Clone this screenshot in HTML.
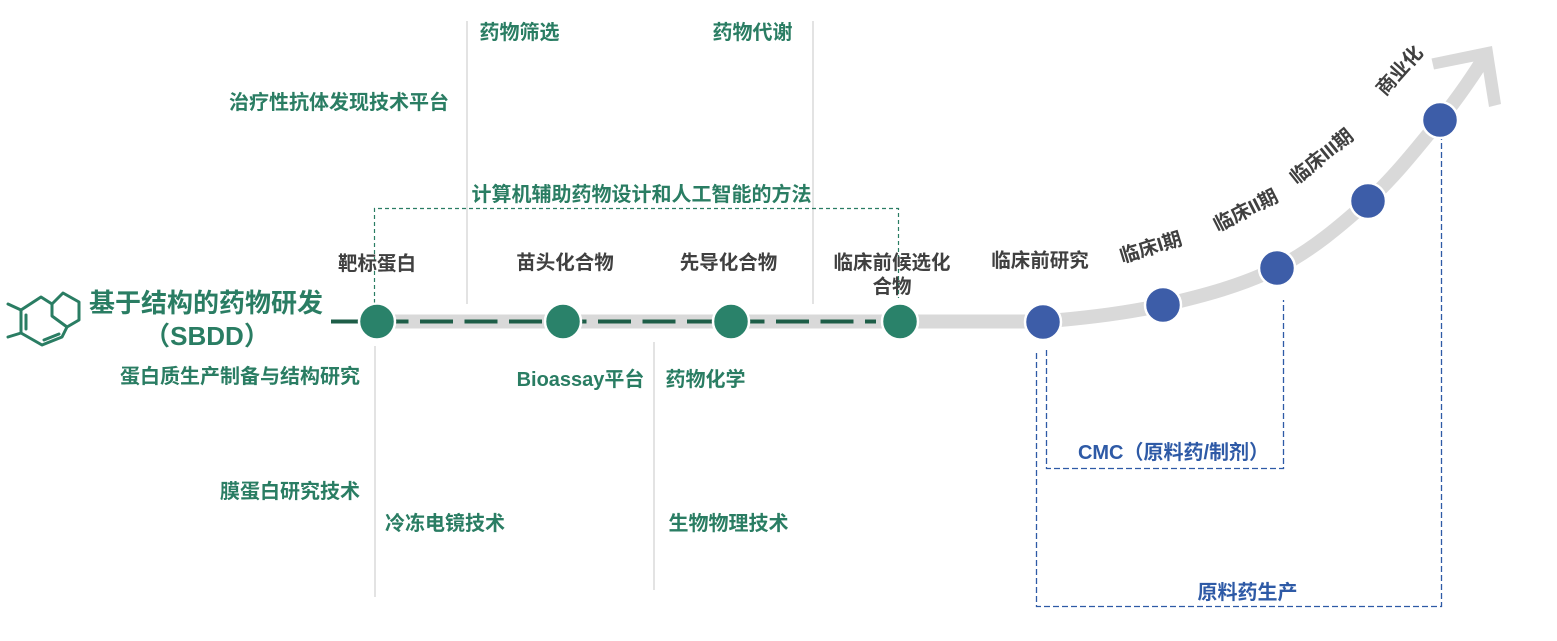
<!DOCTYPE html>
<html><head><meta charset="utf-8">
<style>
html,body{margin:0;padding:0;background:#fff;}
svg{display:block;}
text{font-family:"Liberation Sans","Noto Sans CJK SC",sans-serif;font-weight:bold;}
.g{fill:#2a7d63;font-size:20px;}
.k{fill:#404040;font-size:19.5px;}
.b{fill:#2e5aa6;font-size:20px;}
</style></head>
<body>
<svg width="1557" height="641" viewBox="0 0 1557 641" xmlns="http://www.w3.org/2000/svg">
<!-- gray vertical lines -->
<g stroke="#d4d4d4" stroke-width="1.3">
<line x1="467" y1="21" x2="467" y2="304"/>
<line x1="813" y1="21" x2="813" y2="304"/>
<line x1="375" y1="346" x2="375" y2="597"/>
<line x1="654" y1="342" x2="654" y2="590"/>
</g>
<!-- green dashed box -->
<path d="M374.5 303 V208.5 H898.5 V298" fill="none" stroke="#2a7d63" stroke-width="1.2" stroke-dasharray="4 3"/>
<!-- blue dashed boxes -->
<path d="M1046.5 350 V468.5 H1283.5 V300" fill="none" stroke="#2e5aa6" stroke-width="1.3" stroke-dasharray="6 3"/>
<path d="M1036.5 353 V606.5 H1441.5 V136" fill="none" stroke="#2e5aa6" stroke-width="1.3" stroke-dasharray="6 3"/>
<!-- gray band + curve -->
<path d="M377 321.5 L1043 321.5 C1083 318.3 1124 313.8 1163 305 C1202 296.2 1242.8 285.3 1277 268 C1311.2 250.7 1340.8 225.7 1368 201 C1395.2 176.3 1420.7 143.5 1440 120 C1459.3 96.5 1476.7 70 1484 58" fill="none" stroke="#d9d9d9" stroke-width="14"/>
<polygon points="1431.5,58.5 1492,46 1501,104 1489,107 1481.5,60 1434,69.5" fill="#d9d9d9"/>
<!-- green dashed line -->
<line x1="331" y1="321.5" x2="876" y2="321.5" stroke="#1e5e48" stroke-width="4" stroke-dasharray="33 11.5"/>
<!-- green nodes -->
<g fill="#2a826a" stroke="#fff" stroke-width="2.5">
<circle cx="377" cy="321.5" r="18"/>
<circle cx="563" cy="321.5" r="18"/>
<circle cx="731" cy="321.5" r="18"/>
<circle cx="900" cy="321.5" r="18"/>
</g>
<!-- blue nodes -->
<g fill="#3d5da8" stroke="#fff" stroke-width="2.5">
<circle cx="1043" cy="322" r="18"/>
<circle cx="1163" cy="305" r="18"/>
<circle cx="1277" cy="268" r="18"/>
<circle cx="1368" cy="201" r="18"/>
<circle cx="1440" cy="120" r="18"/>
</g>
<!-- molecule icon -->
<g fill="none" stroke="#2a7d63" stroke-width="3" stroke-linejoin="round" stroke-linecap="round">
<path d="M8 304 L21 310 M8 337 L21 333"/>
<path d="M21 310 L21 333 M26 315 L26 329"/>
<path d="M21 310 L41 297 L52 304"/>
<path d="M52 304 L63 293 L79 302 L79 320 L67 327 L52 316 Z"/>
<path d="M67 327 L62 337 L42 345 L21 333"/>
<path d="M44 340 L59 334"/>
</g>
<!-- green texts -->
<g dominant-baseline="central" text-anchor="middle">
<text class="g" x="519.5" y="33">药物筛选</text>
<text class="g" x="752.5" y="33">药物代谢</text>
<text class="g" x="339" y="103">治疗性抗体发现技术平台</text>
<text class="g" x="641.5" y="195">计算机辅助药物设计和人工智能的方法</text>
<text class="g" x="206" y="303" style="font-size:26px">基于结构的药物研发</text>
<text class="g" x="207" y="336" style="font-size:26px">（SBDD）</text>
<text class="g" x="240" y="377">蛋白质生产制备与结构研究</text>
<text class="g" x="580.5" y="380">Bioassay平台</text>
<text class="g" x="705.5" y="380">药物化学</text>
<text class="g" x="290" y="492">膜蛋白研究技术</text>
<text class="g" x="445" y="524">冷冻电镜技术</text>
<text class="g" x="728.5" y="524">生物物理技术</text>
<!-- gray labels -->
<text class="k" x="377" y="264">靶标蛋白</text>
<text class="k" x="565" y="263">苗头化合物</text>
<text class="k" x="728.5" y="263">先导化合物</text>
<text class="k" x="892" y="263">临床前候选化</text>
<text class="k" x="892" y="287">合物</text>
<text class="k" x="1040" y="261">临床前研究</text>
<text class="k" transform="translate(1151,248) rotate(-17)">临床I期</text>
<text class="k" transform="translate(1246,211) rotate(-27)">临床II期</text>
<text class="k" transform="translate(1322,157) rotate(-39)">临床III期</text>
<text class="k" transform="translate(1400,71) rotate(-48)">商业化</text>
<!-- blue texts -->
<text class="b" x="1173.5" y="453">CMC（原料药/制剂）</text>
<text class="b" x="1247.5" y="593">原料药生产</text>
</g>
</svg>
</body></html>
